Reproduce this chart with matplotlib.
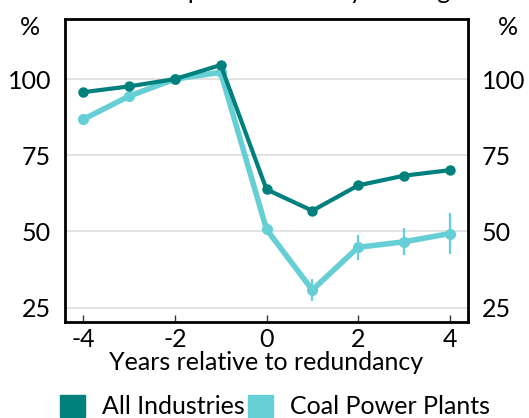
import matplotlib
matplotlib.use('Agg')
import matplotlib.pyplot as plt
from matplotlib.patches import Patch

years = [-4, -3, -2, -1, 0, 1, 2, 3, 4]
all_industries = [95.7, 97.6, 100.0, 104.6, 63.8, 56.8, 65.1, 68.3, 70.1]
coal_power = [86.8, 94.4, 100.0, 102.2, 50.7, 30.8, 44.8, 46.6, 49.3]
coal_err = [1.5, 0.6, 0.0, 0.6, 2.0, 3.5, 4.2, 4.4, 6.8]

dark_teal = '#00807d'
light_teal = '#66cfd6'

plt.rcParams['font.family'] = ['Lato', 'DejaVu Sans']
fs = 18

fig = plt.figure(figsize=(5.29, 4.18), dpi=100)
ax = fig.add_axes([0.1229, 0.2297, 0.7618, 0.7248])

ax.plot(years, all_industries, color=dark_teal, lw=3, marker='o', ms=6.5, zorder=3)
ax.errorbar(years, coal_power, yerr=coal_err, color=light_teal, lw=4, marker='o',
            ms=7, elinewidth=1.6, capsize=0, zorder=2)

ax.set_xlim(-4.4, 4.4)
ax.set_ylim(20.3, 119.7)
ax.set_xticks([-4, -2, 0, 2, 4])
ax.set_xticklabels(['-4', '-2', '0', '2', '4'])
ax.set_yticks([25, 50, 75, 100])
ax.yaxis.grid(True, color='#dddddd', lw=1.2)
ax.set_axisbelow(True)

ax.tick_params(axis='x', direction='in', length=5, width=1, color='#333333',
               labelsize=fs, pad=4)
ax.tick_params(axis='y', length=0, labelsize=fs, pad=10, labelright=True)
for side in ['left', 'right', 'top', 'bottom']:
    ax.spines[side].set_linewidth(2)
    ax.spines[side].set_color('black')

ax.set_xlabel('Years relative to redundancy', fontsize=fs, labelpad=0)

fig.text(0.057, 0.935, '%', fontsize=fs, ha='center', va='center')
fig.text(0.96, 0.935, '%', fontsize=fs, ha='center', va='center')
fig.text(0.497, 0.993, 'Relative to pre-redundancy earnings', fontsize=fs,
         ha='center', va='bottom')

handles = [Patch(color=dark_teal, label='All Industries'),
           Patch(color=light_teal, label='Coal Power Plants')]
fig.legend(handles=handles, loc='lower center', bbox_to_anchor=(0.52, -0.055), ncol=2,
           frameon=False, fontsize=fs, handlelength=1.0, handleheight=1.0,
           handletextpad=0.7, columnspacing=0.1)

fig.savefig('out.png', dpi=100)
